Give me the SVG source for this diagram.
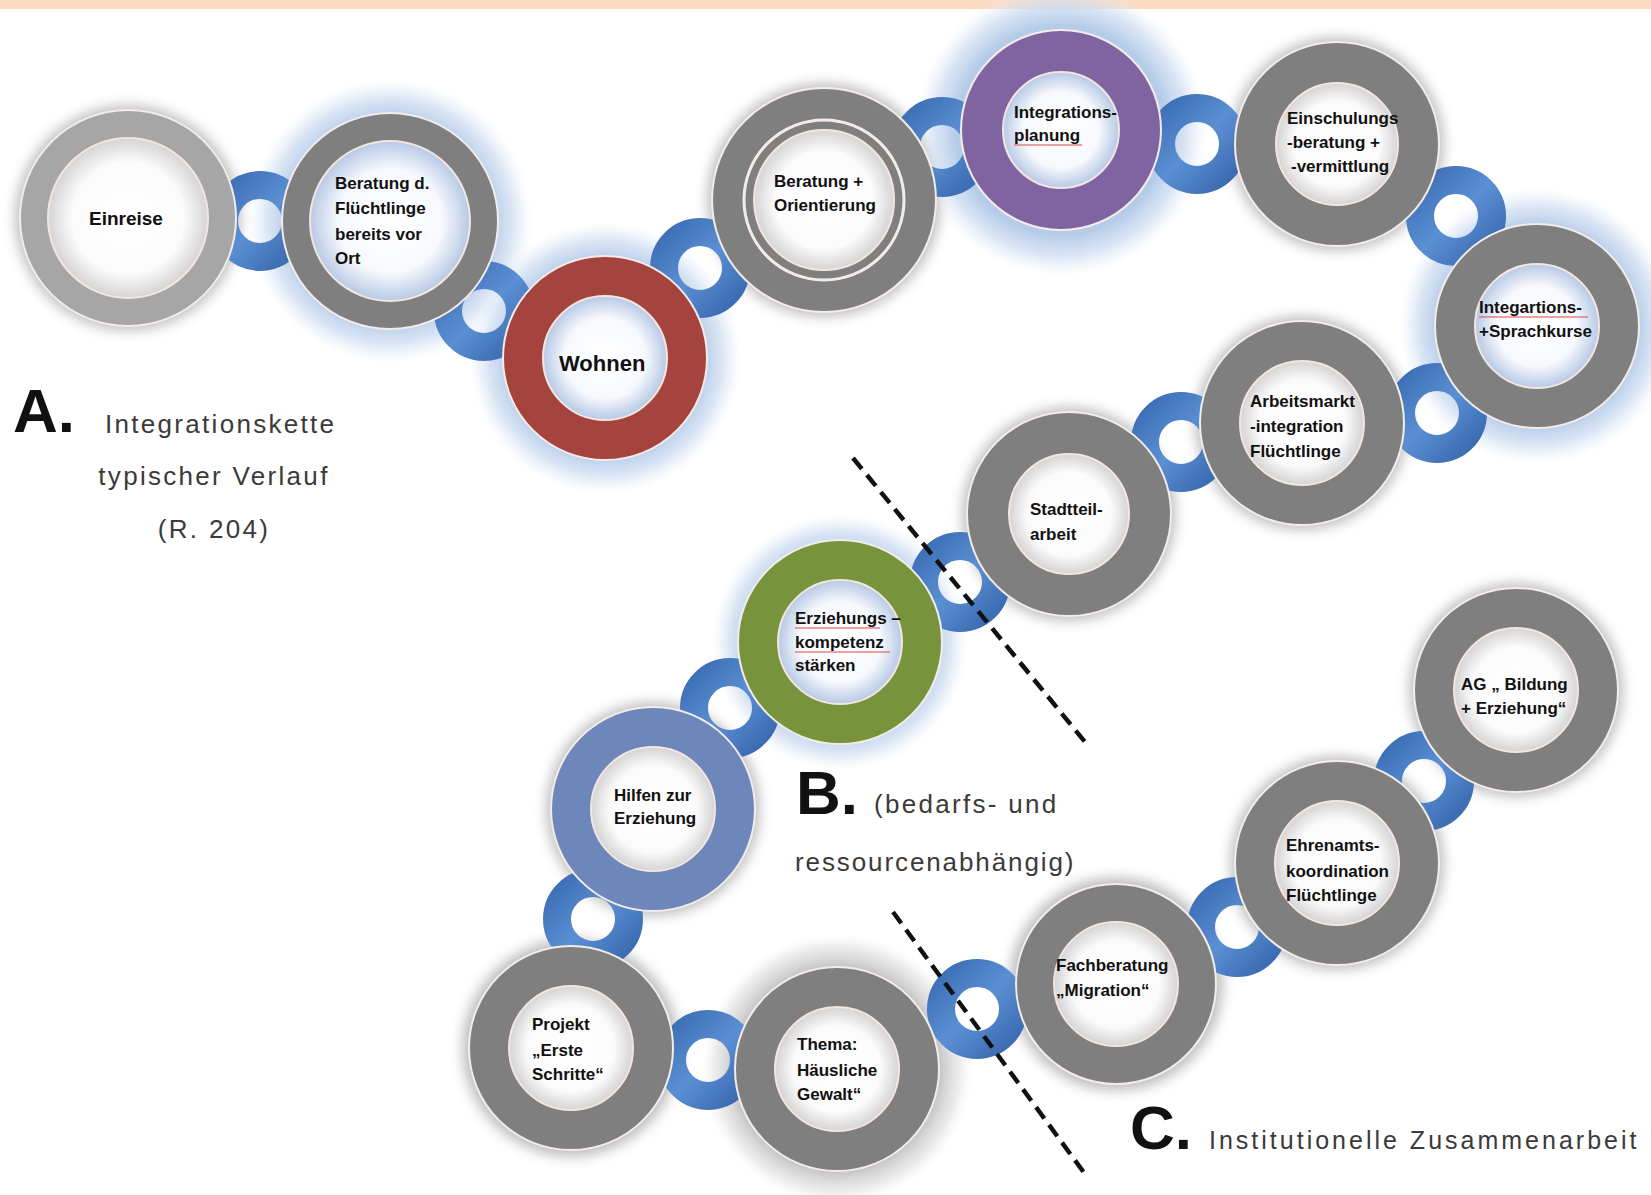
<svg xmlns="http://www.w3.org/2000/svg" width="1651" height="1195" viewBox="0 0 1651 1195">
<defs>
  <radialGradient id="haloBlue" cx="0.5" cy="0.5" r="0.5">
    <stop offset="0.72" stop-color="#b5cce9" stop-opacity="1"/>
    <stop offset="0.86" stop-color="#cddcf1" stop-opacity="0.75"/>
    <stop offset="1" stop-color="#e3ecf8" stop-opacity="0"/>
  </radialGradient>
  <radialGradient id="haloGray" cx="0.5" cy="0.5" r="0.5">
    <stop offset="0.76" stop-color="#9a9a9a" stop-opacity="0.55"/>
    <stop offset="0.9" stop-color="#c8c8c8" stop-opacity="0.35"/>
    <stop offset="1" stop-color="#eeeeee" stop-opacity="0"/>
  </radialGradient>
  <radialGradient id="inner" cx="0.5" cy="0.5" r="0.5">
    <stop offset="0" stop-color="#ffffff"/>
    <stop offset="0.7" stop-color="#fbfbfb"/>
    <stop offset="1" stop-color="#d4d4d4"/>
  </radialGradient>
  <radialGradient id="innerBlue" cx="0.5" cy="0.5" r="0.5">
    <stop offset="0" stop-color="#ffffff"/>
    <stop offset="0.65" stop-color="#f7f9fd"/>
    <stop offset="1" stop-color="#b7c9e6"/>
  </radialGradient>
  <linearGradient id="linkGrad" x1="0" y1="0" x2="1" y2="1">
    <stop offset="0" stop-color="#3d6fb6"/>
    <stop offset="0.5" stop-color="#5b8fd3"/>
    <stop offset="1" stop-color="#3a6ab0"/>
  </linearGradient>
  <filter id="blur" x="-30%" y="-30%" width="160%" height="160%">
    <feGaussianBlur stdDeviation="7"/>
  </filter>
</defs>
<style>
  .ring { stroke: #f4ece8; stroke-width: 2; }
  .gray { fill: #7f7f7f; }
  .hole { fill: url(#inner); stroke: #f4e6df; stroke-width: 2; }
  .holeB { fill: url(#innerBlue); stroke: #f4e6df; stroke-width: 2; }
  .link { fill: none; stroke: url(#linkGrad); stroke-width: 28; }
  .lbl { font-family: "Liberation Sans", Arial, sans-serif; font-weight: bold; font-size: 17px; fill: #111; }
  .big { font-family: "Liberation Sans", Arial, sans-serif; font-weight: bold; font-size: 62px; fill: #111; }
  .cap { font-family: "Liberation Sans", Arial, sans-serif; font-size: 26px; fill: #3a3a3a; letter-spacing: 2.3px; }
  .shadow { fill: #000; opacity: 0.28; filter: url(#blur); }
  .sep { stroke: #111; stroke-width: 4.5; stroke-dasharray: 14 8; fill: none; }
  .spell { stroke: #e0504a; stroke-width: 1.5; opacity: 0.7; fill: none; }
</style>

<rect x="0" y="0" width="1651" height="1195" fill="#ffffff"/>
<rect x="0" y="0" width="1651" height="9" fill="#fbdcc2"/>

<g id="halos">
  <circle cx="128" cy="218" r="112" class="shadow"/>
  <circle cx="390" cy="221" r="142" fill="url(#haloBlue)"/>
  <circle cx="605" cy="358" r="136" fill="url(#haloBlue)"/>
  <circle cx="824" cy="200" r="116" class="shadow"/>
  <circle cx="1061" cy="130" r="146" fill="url(#haloBlue)"/>
  <circle cx="1337" cy="144" r="106" class="shadow"/>
  <circle cx="1537" cy="326" r="138" fill="url(#haloBlue)"/>
  <circle cx="1302" cy="423" r="106" class="shadow"/>
  <circle cx="1069" cy="514" r="106" class="shadow"/>
  <circle cx="840" cy="642" r="128" fill="url(#haloBlue)"/>
  <circle cx="653" cy="809" r="106" class="shadow"/>
  <circle cx="571" cy="1048" r="108" class="shadow"/>
  <circle cx="837" cy="1069" r="136" fill="url(#haloGray)"/>
  <circle cx="1116" cy="984" r="106" class="shadow"/>
  <circle cx="1337" cy="863" r="106" class="shadow"/>
  <circle cx="1516" cy="690" r="106" class="shadow"/>
</g>

<g id="connectors">
  <circle class="link" cx="260" cy="221" r="36"/>
  <circle class="link" cx="484" cy="311" r="36"/>
  <circle class="link" cx="700" cy="268" r="36"/>
  <circle class="link" cx="942" cy="147" r="36"/>
  <circle class="link" cx="1197" cy="144" r="36"/>
  <circle class="link" cx="1456" cy="216" r="36"/>
  <circle class="link" cx="1437" cy="413" r="36"/>
  <circle class="link" cx="1181" cy="442" r="36"/>
  <circle class="link" cx="960" cy="582" r="36"/>
  <circle class="link" cx="730" cy="708" r="36"/>
  <circle class="link" cx="593" cy="919" r="36"/>
  <circle class="link" cx="708" cy="1060" r="36"/>
  <circle class="link" cx="977" cy="1009" r="36"/>
  <circle class="link" cx="1237" cy="927" r="36"/>
  <circle class="link" cx="1424" cy="781" r="36"/>
</g>

<g id="node-einreise">
  <circle class="ring" cx="128" cy="218" r="108" fill="#a6a6a6"/>
  <circle class="hole" cx="128" cy="218" r="80"/>
  <text class="lbl" x="89" y="225" style="font-size:19px">Einreise</text>
</g>

<g id="node-beratung-fluechtlinge">
  <circle class="ring gray" cx="390" cy="221" r="108"/>
  <circle class="holeB" cx="390" cy="221" r="80"/>
  <text class="lbl" x="335" y="189">Beratung d.</text>
  <text class="lbl" x="335" y="214">Flüchtlinge</text>
  <text class="lbl" x="335" y="240">bereits vor</text>
  <text class="lbl" x="335" y="264">Ort</text>
</g>

<g id="node-wohnen">
  <circle class="ring" cx="605" cy="358" r="102" fill="#a5433f"/>
  <circle class="holeB" cx="605" cy="358" r="62"/>
  <text class="lbl" x="559" y="371" style="font-size:22px">Wohnen</text>
</g>

<g id="node-beratung-orientierung">
  <circle class="ring gray" cx="824" cy="200" r="112"/>
  <circle cx="824" cy="200" r="80" fill="none" stroke="#f4ece8" stroke-width="3"/>
  <circle class="hole" cx="824" cy="200" r="70"/>
  <text class="lbl" x="774" y="187">Beratung +</text>
  <text class="lbl" x="774" y="211">Orientierung</text>
</g>

<g id="node-integrationsplanung">
  <circle class="ring" cx="1061" cy="130" r="100" fill="#8064a2"/>
  <circle class="holeB" cx="1061" cy="130" r="58"/>
  <text class="lbl" x="1014" y="118">Integrations-</text>
  <text class="lbl" x="1014" y="141">planung</text>
  <path class="spell" d="M1014 145 L1082 145"/>
</g>

<g id="node-einschulung">
  <circle class="ring gray" cx="1337" cy="144" r="102"/>
  <circle class="hole" cx="1337" cy="144" r="61"/>
  <text class="lbl" x="1287" y="124">Einschulungs</text>
  <text class="lbl" x="1287" y="148">-beratung +</text>
  <text class="lbl" x="1291" y="172">-vermittlung</text>
</g>

<g id="node-sprachkurse">
  <circle class="ring gray" cx="1537" cy="326" r="102"/>
  <circle class="holeB" cx="1537" cy="326" r="62"/>
  <text class="lbl" x="1479" y="313">Integartions-</text>
  <text class="lbl" x="1479" y="337">+Sprachkurse</text>
  <path class="spell" d="M1479 317 L1588 317"/>
</g>

<g id="node-arbeitsmarkt">
  <circle class="ring gray" cx="1302" cy="423" r="102"/>
  <circle class="hole" cx="1302" cy="423" r="62"/>
  <text class="lbl" x="1250" y="407">Arbeitsmarkt</text>
  <text class="lbl" x="1250" y="432">-integration</text>
  <text class="lbl" x="1250" y="457">Flüchtlinge</text>
</g>

<g id="node-stadtteilarbeit">
  <circle class="ring gray" cx="1069" cy="514" r="102"/>
  <circle class="hole" cx="1069" cy="514" r="60"/>
  <text class="lbl" x="1030" y="515">Stadtteil-</text>
  <text class="lbl" x="1030" y="540">arbeit</text>
</g>

<g id="node-erziehungskompetenz">
  <circle class="ring" cx="840" cy="642" r="102" fill="#77933c"/>
  <circle class="holeB" cx="840" cy="642" r="62"/>
  <text class="lbl" x="795" y="624">Erziehungs –</text>
  <text class="lbl" x="795" y="648">kompetenz</text>
  <text class="lbl" x="795" y="671">stärken</text>
  <path class="spell" d="M795 628 L880 628 M795 652 L890 652"/>
</g>

<g id="node-hilfen">
  <circle class="ring" cx="653" cy="809" r="102" fill="#6e87bb"/>
  <circle class="hole" cx="653" cy="809" r="62"/>
  <text class="lbl" x="614" y="801">Hilfen zur</text>
  <text class="lbl" x="614" y="824">Erziehung</text>
</g>

<g id="node-projekt">
  <circle class="ring gray" cx="571" cy="1048" r="102"/>
  <circle class="hole" cx="571" cy="1048" r="62"/>
  <text class="lbl" x="532" y="1030">Projekt</text>
  <text class="lbl" x="532" y="1056">„Erste</text>
  <text class="lbl" x="532" y="1080">Schritte“</text>
</g>

<g id="node-thema">
  <circle class="ring gray" cx="837" cy="1069" r="102"/>
  <circle class="hole" cx="837" cy="1069" r="62"/>
  <text class="lbl" x="797" y="1050">Thema:</text>
  <text class="lbl" x="797" y="1076">Häusliche</text>
  <text class="lbl" x="797" y="1100">Gewalt“</text>
</g>

<g id="node-fachberatung">
  <circle class="ring gray" cx="1116" cy="984" r="100"/>
  <circle class="hole" cx="1116" cy="984" r="62"/>
  <text class="lbl" x="1056" y="971">Fachberatung</text>
  <text class="lbl" x="1056" y="996">„Migration“</text>
</g>

<g id="node-ehrenamt">
  <circle class="ring gray" cx="1337" cy="863" r="102"/>
  <circle class="hole" cx="1337" cy="863" r="62"/>
  <text class="lbl" x="1286" y="851">Ehrenamts-</text>
  <text class="lbl" x="1286" y="877">koordination</text>
  <text class="lbl" x="1286" y="901">Flüchtlinge</text>
</g>

<g id="node-ag-bildung">
  <circle class="ring gray" cx="1516" cy="690" r="102"/>
  <circle class="hole" cx="1516" cy="690" r="62"/>
  <text class="lbl" x="1461" y="690">AG „ Bildung</text>
  <text class="lbl" x="1461" y="714">+ Erziehung“</text>
</g>

<g id="separators">
  <line class="sep" x1="853" y1="458" x2="1085" y2="742"/>
  <line class="sep" x1="893" y1="912" x2="1085" y2="1174"/>
</g>

<g id="labels">
  <text class="big" x="13" y="432">A.</text>
  <text class="cap" x="105" y="433">Integrationskette</text>
  <text class="cap" x="214" y="485" text-anchor="middle">typischer Verlauf</text>
  <text class="cap" x="214" y="538" text-anchor="middle">(R. 204)</text>
  <text class="big" x="796" y="814">B.</text>
  <text class="cap" x="874" y="813">(bedarfs- und</text>
  <text class="cap" x="795" y="871" style="letter-spacing:1.9px">ressourcenabhängig)</text>
  <text class="big" x="1130" y="1149">C.</text>
  <text class="cap" x="1209" y="1149" style="font-size:25px;letter-spacing:3px">Institutionelle  Zusammenarbeit</text>
</g>
</svg>
